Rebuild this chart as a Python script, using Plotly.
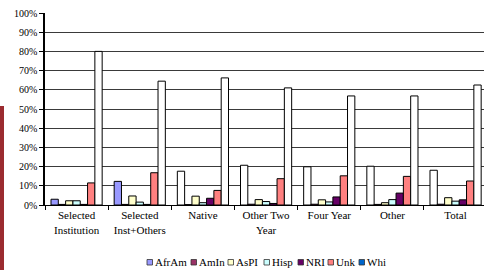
import plotly.graph_objects as go

categories = ["Selected<br>Institution", "Selected<br>Inst+Others", "Native",
              "Other Two<br>Year", "Four Year", "Other", "Total"]
series_names = ["AfrAm", "AmIn", "AsPI", "Hisp", "NRI", "Unk", "Whi"]
afram = [3.0, 12.3, 17.6, 20.7, 19.9, 20.2, 18.1]
amin = [0.3, 0.3, 0.2, 0.4, 0.4, 0.3, 0.4]
aspi = [2.2, 4.7, 4.6, 2.8, 2.7, 1.2, 3.8]
hisp = [2.2, 1.5, 1.2, 1.8, 1.6, 2.8, 2.0]
nri = [0.3, 0.3, 3.5, 0.8, 4.2, 6.2, 2.7]
unk = [11.5, 16.8, 7.6, 13.7, 15.2, 14.9, 12.5]
whi = [80.0, 64.5, 66.2, 61.0, 56.8, 56.8, 62.5]
y_ticks = list(range(0, 101, 10))

values = [afram, amin, aspi, hisp, nri, unk, whi]
legend_colors = ["#9999FF", "#993366", "#FFFFCC", "#CCFFFF", "#660066", "#FF8080", "#0066CC"]
bar_colors = [
    ["#9999FF", "#9999FF"] + ["#FFFFFF"] * 5,
    "#993366", "#FFFFCC", "#CCFFFF", "#660066", "#FF8080", "#FFFFFF",
]

FONT = "Liberation Serif"
W, H = 484, 270
L, R, T, B = 45, 0, 13, 65
PW, PH = W - L - R, H - T - B


def px2x(p):
    return (p - L) / PW


def py2y(p):
    return (H - B - p) / PH


fig = go.Figure()
for i, (name, vals) in enumerate(zip(series_names, values)):
    fig.add_trace(go.Bar(
        x=categories, y=vals, name=name, offsetgroup=str(i),
        marker=dict(color=bar_colors[i], line=dict(color="#000000", width=1)),
        showlegend=False, hoverinfo="skip",
    ))

# manual compact legend
legend_x = [147, 191, 228, 264, 298, 328, 359]
shapes = []
annotations = []
ly = 262
for name, col, lx in zip(series_names, legend_colors, legend_x):
    shapes.append(dict(type="rect", xref="paper", yref="paper",
                       x0=px2x(lx), x1=px2x(lx + 5.5), y0=py2y(ly + 3), y1=py2y(ly - 2.5),
                       fillcolor=col, line=dict(color="#333333", width=0.8)))
    annotations.append(dict(xref="paper", yref="paper", x=px2x(lx + 6), y=py2y(ly),
                            text=name, showarrow=False, xanchor="left", yanchor="middle",
                            font=dict(family=FONT, size=11, color="#000000")))

# dark red strip at the left edge
shapes.append(dict(type="rect", xref="paper", yref="paper", layer="above",
                   x0=px2x(0), x1=px2x(4), y0=py2y(270), y1=py2y(106),
                   fillcolor="#9B2B30", line=dict(width=0)))

fig.update_layout(
    width=W, height=H,
    margin=dict(l=L, r=R, t=T, b=B),
    paper_bgcolor="#FFFFFF", plot_bgcolor="#FFFFFF",
    barmode="group", bargap=0.19, bargroupgap=0,
    showlegend=False,
    font=dict(family=FONT, color="#000000"),
    shapes=shapes, annotations=annotations,
    xaxis=dict(range=[-0.5, 6.45], tickson="boundaries", ticks="outside", ticklen=4,
               tickcolor="#000000", showline=True, linecolor="#000000", linewidth=1,
               showgrid=False, tickfont=dict(family=FONT, size=11, color="#000000")),
    yaxis=dict(range=[0, 100], tickvals=y_ticks, ticktext=[f"{v}%" for v in y_ticks],
               ticks="outside", ticklen=4, tickcolor="#000000",
               showline=True, linecolor="#000000", linewidth=1.5,
               showgrid=True, gridcolor="#3a3a3a", gridwidth=1, zeroline=False,
               tickfont=dict(family=FONT, size=10, color="#000000")),
)

fig.write_html("out.html", config={"displayModeBar": False},
               post_script="document.body.style.margin='0';document.body.style.overflow='hidden';")
